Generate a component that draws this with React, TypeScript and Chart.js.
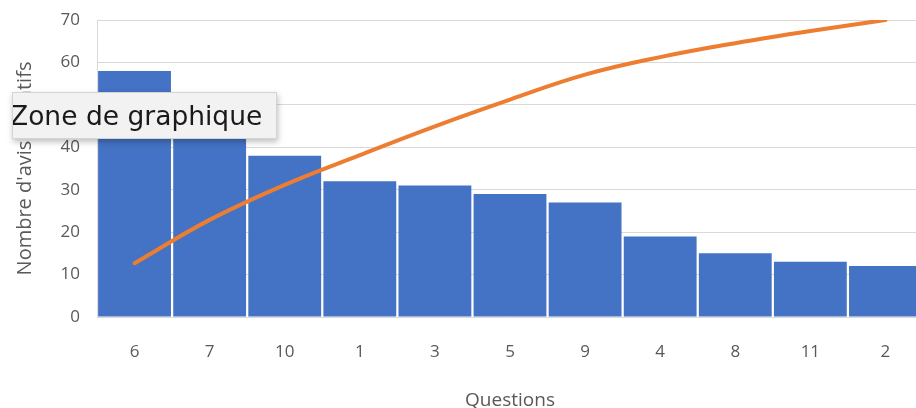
import React, { useEffect, useRef } from "react";
import { Chart, registerables } from "chart.js";

Chart.register(...registerables);

// ---- data ----
const categories = ["6", "7", "10", "1", "3", "5", "9", "4", "8", "11", "2"];
const negativeCounts = [58, 47, 38, 32, 31, 29, 27, 19, 15, 13, 12];
const cumulativePercent = [18.1, 32.7, 44.5, 54.5, 64.2, 73.2, 81.6, 87.5, 92.2, 96.3, 100];
const yMin = 0;
const yMax = 70;
const yStep = 10;
const yAxisTitle = "Nombre d'avis négatifs";
const xAxisTitle = "Questions";
const overlayLabel = "Zone de graphique";

const W = 923;
const H = 412;
const FONT = "'Open Sans', sans-serif";
const TEXT = "#595959";
const GRID = "#d9d9d9";

export default function App() {
  const ref = useRef<HTMLCanvasElement | null>(null);

  useEffect(() => {
    if (!ref.current) return;
    const chart = new Chart(ref.current, {
      type: "bar",
      data: {
        labels: categories,
        datasets: [
          {
            type: "line",
            label: "Cumul %",
            data: cumulativePercent,
            yAxisID: "y1",
            borderColor: "#ED7D31",
            backgroundColor: "#ED7D31",
            borderWidth: 4,
            pointRadius: 0,
            tension: 0.4,
            borderCapStyle: "round",
            order: 0,
          } as any,
          {
            type: "bar",
            label: "Nombre d'avis",
            data: negativeCounts,
            yAxisID: "y",
            backgroundColor: "#4472C4",
            borderWidth: 0,
            barPercentage: 1,
            categoryPercentage: 0.97,
            order: 1,
          },
        ],
      },
      options: {
        responsive: false,
        animation: false,
        layout: { padding: { top: 20, right: 0, left: 0, bottom: 0 } },
        plugins: { legend: { display: false }, tooltip: { enabled: false } },
        scales: {
          x: {
            grid: { display: false, drawTicks: false },
            border: { display: true, color: GRID },
            ticks: { color: TEXT, font: { family: FONT, size: 17 }, padding: 25, maxRotation: 0 },
            title: {
              display: true,
              text: xAxisTitle,
              color: TEXT,
              font: { family: FONT, size: 19 },
              padding: { top: 0, bottom: 0 },
            },
            afterFit: (s: any) => {
              s.height = 95;
              s.paddingLeft = 0;
              s.paddingRight = 0;
            },
          },
          y: {
            min: yMin,
            max: yMax,
            ticks: { stepSize: yStep, color: TEXT, font: { family: FONT, size: 17 }, padding: 17 },
            grid: { color: GRID, drawTicks: false, lineWidth: 1 },
            border: { display: true, color: GRID },
            title: {
              display: true,
              text: yAxisTitle,
              color: TEXT,
              font: { family: FONT, size: 20 },
              padding: { top: 13, bottom: 0 },
            },
            afterFit: (s: any) => {
              s.width = 97;
              s.paddingTop = 0;
              s.paddingBottom = 0;
            },
          },
          y1: { display: false, min: 0, max: 100 },
        },
      },
    });
    return () => chart.destroy();
  }, []);

  return (
    <div style={{ position: "fixed", left: 0, top: 0, width: W, height: H, background: "#fff" }}>
      <canvas ref={ref} width={W} height={H} style={{ display: "block", width: W, height: H }} />
      <div
        style={{
          position: "absolute",
          left: 12,
          top: 92,
          width: 265,
          height: 47,
          background: "#f2f2f2",
          border: "1px solid #d4d4d4",
          boxShadow: "1px 3px 6px rgba(0,0,0,0.25)",
          overflow: "hidden",
          boxSizing: "border-box",
        }}
      >
        <div
          style={{
            position: "absolute",
            left: -3,
            top: 8,
            whiteSpace: "nowrap",
            fontFamily: "'DejaVu Sans', sans-serif",
            fontSize: 26.5,
            lineHeight: "30px",
            color: "#1a1a1a",
          }}
        >
          {overlayLabel}
        </div>
      </div>
    </div>
  );
}
